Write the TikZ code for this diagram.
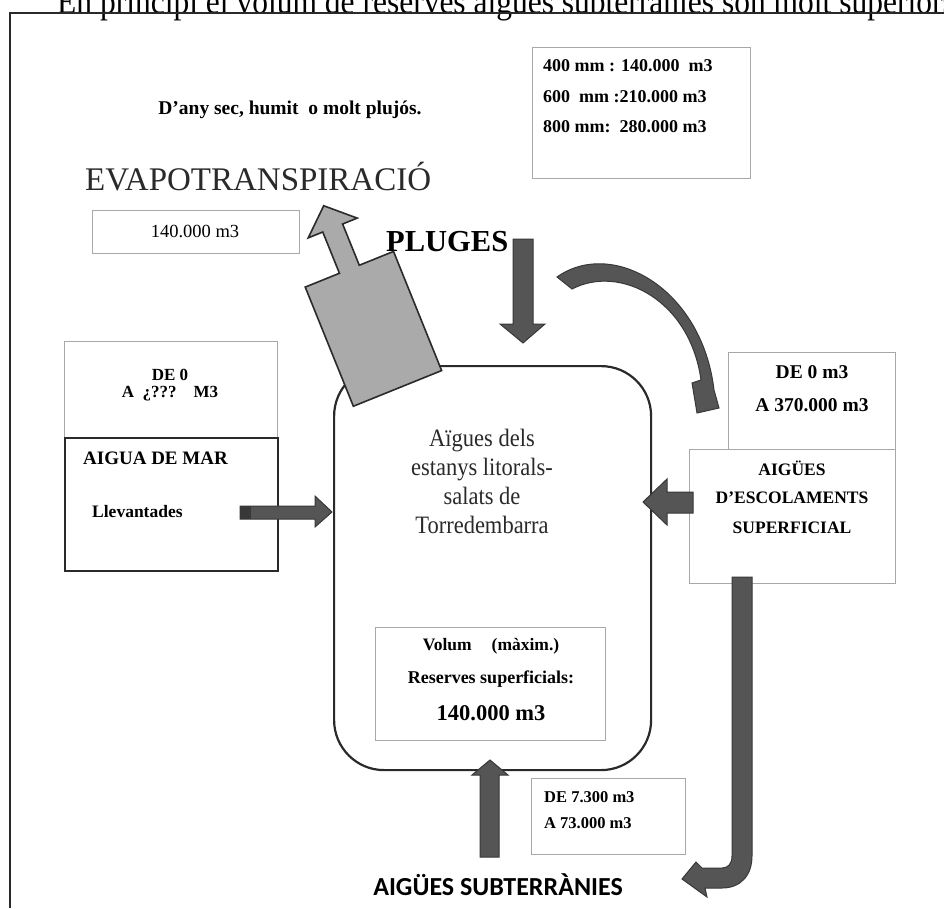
\documentclass[tikz,border=0pt]{standalone}
\usepackage{fontspec}
\setmainfont{Liberation Serif}
\newfontfamily\garam[FakeStretch=0.9]{Liberation Serif}
\newfontfamily\carl{Carlito}
\newcommand\fsz[1]{\fontsize{#1}{#1}\selectfont}
\definecolor{arrfill}{HTML}{555555}
\definecolor{arrline}{HTML}{383838}
\definecolor{evfill}{HTML}{AAAAAA}
\definecolor{boxline}{HTML}{A8A8A8}
\definecolor{ink}{HTML}{2A2A2A}
\tikzset{
  thinbox/.style={draw=boxline, line width=1pt, inner sep=0pt, anchor=north west},
  thickbox/.style={draw=ink, line width=2.2pt, inner sep=0pt, anchor=north west},
  darrow/.style={fill=arrfill, draw=arrline, line width=1pt, line join=miter},
  evarrow/.style={fill=evfill, draw=ink, line width=1.6pt, line join=miter},
  lbl/.style={inner sep=0pt, font=\bfseries\fsz{#1}},
  lbl/.default=17,
}
\begin{document}
\begin{tikzpicture}[x=1pt,y=-1pt]
\useasboundingbox (0,0) rectangle (944,908);
\fill[white] (0,0) rectangle (944,908);
% top text and frame
\node[anchor=base west, inner sep=0pt, font=\garam\fsz{35}, text=black] (toptext) at (57,13) {En principi el volum de reserves aigües subterrànies son molt superiors};
\coordinate (fbl) at (10,908);
\coordinate (ftl) at (10,13);
\coordinate (ftr) at (944,13);
\draw[line width=2pt, ink] (fbl) -- (ftl) -- (ftr);
% top labels
\node[lbl=19.5] (dany) at (290,110) {D'any sec, humit\ \ o molt plujós.};
\node[thinbox, minimum width=218, minimum height=131] (rainbox) at (532,47) {};
\node[lbl=18, anchor=west] (r400) at (543,66) {400\ mm : 140.000\ \ m3};
\node[lbl=18, anchor=west] (r600) at (543,97) {600\ \ mm :210.000 m3};
\node[lbl=18, anchor=west] (r800) at (543,127) {800\ mm:\ \ 280.000 m3};
\node[anchor=west, inner sep=0pt, font=\fsz{33}, text=ink] (evap) at (85,177) {EVAPOTRANSPIRACIÓ};
\node[thinbox, minimum width=207, minimum height=43] (evbox) at (92,210) {};
\node[inner sep=0pt, font=\fsz{18.5}] (ev140) at (195,231) {140.000 m3};
\node[lbl=30.5, anchor=west] (pluges) at (386,242) {PLUGES};
% left boxes
\node[thinbox, minimum width=213, minimum height=96] (ldebox) at (64,341) {};
\node[lbl=17] (ld1) at (170,375) {DE 0};
\node[lbl=17] (ld2) at (170,394) {A\ \ ¿???\ \ \ \ M3};
\node[thickbox, minimum width=213, minimum height=133] (marbox) at (64,437) {};
\node[lbl=19, anchor=west] (mar1) at (83,458) {AIGUA DE MAR};
\node[lbl=17.5, anchor=west] (mar2) at (92,512) {Llevantades};
% main tank
\node[draw=ink, line width=2.2pt, rounded corners=50pt, anchor=north west, inner sep=0pt, minimum width=317, minimum height=404] (tank) at (333,365) {};
\node[inner sep=0pt, align=center, font=\garam\fontsize{25}{29}\selectfont, text=ink] (tanktext) at (482,481) {Aïgues dels\\estanys litorals-\\salats de\\Torredembarra};
\node[thinbox, minimum width=230, minimum height=113] (volbox) at (375,627) {};
\node[lbl=17.5] (vol1) at (491,646) {Volum\hspace{20pt}(màxim.)};
\node[lbl=18] (vol2) at (491,679) {Reserves superficials:};
\node[lbl=22.5] (vol3) at (491,713) {140.000 m3};
% right boxes
\node[thinbox, minimum width=167, minimum height=97] (rdebox) at (728,352) {};
\node[lbl=19.5] (rde1) at (812,372) {DE 0 m3};
\node[lbl=19.5] (rde2) at (812,405) {A 370.000 m3};
\node[thinbox, minimum width=206, minimum height=134] (escbox) at (689,449) {};
\node[lbl=17.5] (esc1) at (792,468) {AIGÜES};
\node[lbl=17.5] (esc2) at (792,498) {D'ESCOLAMENTS};
\node[lbl=17.5] (esc3) at (792,528) {SUPERFICIAL};
% bottom
\node[thinbox, minimum width=154, minimum height=76] (subbox) at (531,778) {};
\node[lbl=16.5, anchor=west] (sub1) at (544,797) {DE 7.300 m3};
\node[lbl=16.5, anchor=west] (sub2) at (544,823) {A 73.000 m3};
\node[inner sep=0pt, font=\carl\bfseries\fsz{26}] (subt) at (498,885) {AIGÜES SUBTERRÀNIES};
% arrows
\begin{scope}[shift={(397.5,388.4)}, rotate=22]
\draw[evarrow] (-47.6,0) -- (47.6,0) -- (47.6,-128.5) -- (10.7,-128.5) -- (10.7,-173) -- (26.4,-173) -- (0,-197) -- (-26.4,-173) -- (-10.7,-173) -- (-10.7,-128.5) -- (-47.6,-128.5) -- cycle;
\end{scope}
\draw[darrow] (513,239) -- (533,239) -- (533,324) -- (545,324) -- (523,343) -- (500,324) -- (513,324) -- cycle;
\draw[darrow] (557,277) .. controls (612,238) and (702,288) .. (714,390) -- (719,408) -- (697,413) -- (692,383) -- (701,380) .. controls (690,300) and (620,264) .. (572,289) -- cycle;
\draw[darrow] (240,506) -- (315,506) -- (315,496) -- (332,512) -- (315,527) -- (315,519) -- (240,519) -- cycle;
\fill[arrline] (240,506) rectangle (251,519);
\draw[darrow] (693,492) -- (667,492) -- (667,479) -- (643,502) -- (667,525) -- (667,513) -- (693,513) -- cycle;
\draw[darrow] (480,857) -- (480,775) -- (472,775) -- (490,760) -- (508,775) -- (499,775) -- (499,857) -- cycle;
\draw[darrow] (732,577) -- (752,577) -- (752,856) .. controls (752,876) and (740,888) .. (722,888) -- (705,888) -- (707,897) -- (682,879) -- (696,862) -- (702,868) -- (722,868) .. controls (728,868) and (732,864) .. (732,856) -- cycle;
\end{tikzpicture}
\end{document}
